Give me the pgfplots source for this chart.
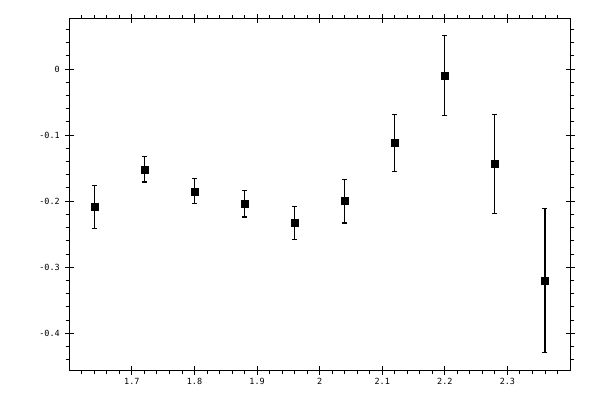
\documentclass[border=0pt]{standalone}
\usepackage{fontspec}
\setmonofont{DejaVu Sans Mono}
\usepackage{pgfplots}
\pgfplotsset{compat=1.18}
\pgfplotsset{
  myframe/.style={
    at={(69.3bp,30bp)}, anchor=south west,
    scale only axis, width=500.7bp, height=351bp,
    xmin=1.6, xmax=2.4, ymin=-0.4555, ymax=0.0756,
    axis line style={line width=1bp},
    every tick/.style={black, line width=0.9bp},
    xtick pos=both, ytick pos=both,
    minor tick num=0,
  }
}
\begin{document}
\begin{tikzpicture}[x=1bp,y=1bp]
\path[use as bounding box] (0,0) rectangle (600,400);
% minor ticks, pointing outward (drawn as short major ticks, no labels)
\begin{axis}[myframe,
  xtick={1.62,1.64,1.66,1.68,1.72,1.74,1.76,1.78,1.82,1.84,1.86,1.88,1.92,1.94,1.96,1.98,2.02,2.04,2.06,2.08,2.12,2.14,2.16,2.18,2.22,2.24,2.26,2.28,2.32,2.34,2.36,2.38},
  ytick={-0.44,-0.42,-0.38,-0.36,-0.34,-0.32,-0.28,-0.26,-0.24,-0.22,-0.18,-0.16,-0.14,-0.12,-0.08,-0.06,-0.04,-0.02,0.02,0.04,0.06},
  xticklabels={}, yticklabels={},
  tick align=outside,
  major tick length=3.5bp,
]
\end{axis}
% major ticks, labels and data
\begin{axis}[myframe,
  xtick={1.7,1.8,1.9,2,2.1,2.2,2.3},
  ytick={-0.4,-0.3,-0.2,-0.1,0},
  tick align=center,
  major tick length=9bp,
  xticklabel pos=lower, yticklabel pos=left,
  /pgf/number format/assume math mode=true,
  tick label style={font=\ttfamily\fontsize{8.5}{9}\selectfont},
  xticklabel style={yshift=0bp},
  yticklabel style={xshift=-1.5bp},
]
\addplot[only marks, mark=square*, mark size=3.5bp, black,
  error bars/.cd, y dir=both, y explicit,
  error bar style={line width=1.1bp, black},
  error mark options={rotate=90, mark size=2.5bp, line width=1.1bp, black}]
  table[x=x, y=y, y error=e] {
x y e
1.64 -0.209 0.032
1.72 -0.152 0.019
1.80 -0.185 0.019
1.88 -0.204 0.020
1.96 -0.233 0.025
2.04 -0.200 0.033
2.12 -0.112 0.043
2.20 -0.010 0.061
2.28 -0.144 0.0745
2.36 -0.320 0.109
};
\end{axis}
\end{tikzpicture}
\end{document}
